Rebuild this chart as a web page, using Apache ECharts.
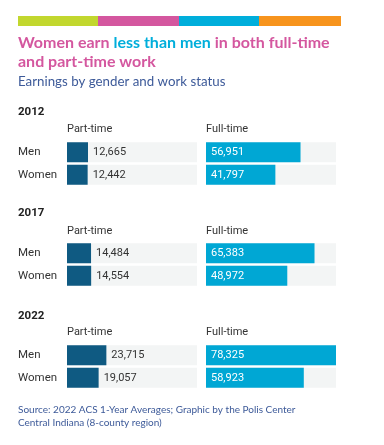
<!DOCTYPE html>
<html>
<head>
<meta charset="utf-8">
<script src="https://cdn.jsdelivr.net/npm/echarts@6/dist/echarts.min.js"></script>
<style>
html,body{margin:0;padding:0;background:#fff;}
#c{width:384px;height:445px;}
</style>
</head>
<body>
<div id="c"></div>
<script>
// ---- Data ----
var years = ['2012', '2017', '2022'];
var genders = ['Men', 'Women'];
var workTypes = ['Part-time', 'Full-time'];
var partTimeMen = [12665, 14484, 23715];
var partTimeWomen = [12442, 14554, 19057];
var fullTimeMen = [56951, 65383, 78325];
var fullTimeWomen = [41797, 48972, 58923];
var scaleMax = 78325;

// ---- Layout ----
var gridTops = [141, 242, 344];
var yearLabelY = [113, 214.5, 317];
var headerY = [131, 232.5, 334];
var gridLefts = [67, 206];
var gridWidth = 130;
var gridHeight = 45;

var TEXT = '#333333';
var NAVY = '#3d5a99';

var grids = [], xAxes = [], yAxes = [], series = [], graphics = [];

// top color strip
var stripColors = ['#c2d72e', '#d4579f', '#00aedb', '#f7941d'];
var stripX = [18, 98, 179, 259, 341];
for (var s = 0; s < 4; s++) {
  graphics.push({type: 'rect', shape: {x: stripX[s], y: 16, width: stripX[s+1]-stripX[s], height: 10}, style: {fill: stripColors[s]}});
}

var idx = 0;
years.forEach(function (yr, yi) {
  graphics.push({type: 'text', left: 18, top: yearLabelY[yi] - 7, style: {text: yr, fontFamily: 'Roboto', fontWeight: 'bold', fontSize: 11.5, fill: '#222'}});
  workTypes.forEach(function (wt, ti) {
    graphics.push({type: 'text', left: gridLefts[ti], top: headerY[yi] - 7, style: {text: wt, fontFamily: 'Roboto', fontSize: 11, fill: TEXT}});
    grids.push({left: gridLefts[ti], top: gridTops[yi], width: gridWidth, height: gridHeight, containLabel: false});
    xAxes.push({type: 'value', gridIndex: idx, min: 0, max: scaleMax, show: false});
    yAxes.push({
      type: 'category', gridIndex: idx, data: genders, inverse: true,
      axisLine: {show: false}, axisTick: {show: false}, splitLine: {show: false},
      axisLabel: {show: ti === 0, align: 'left', margin: 49, fontFamily: 'Roboto', fontSize: 11.5, color: TEXT}
    });
    var vals = ti === 0 ? [partTimeMen[yi], partTimeWomen[yi]] : [fullTimeMen[yi], fullTimeWomen[yi]];
    series.push({
      type: 'bar', xAxisIndex: idx, yAxisIndex: idx, data: vals, barWidth: 20,
      showBackground: true, backgroundStyle: {color: '#f3f5f5'},
      itemStyle: {color: ti === 0 ? '#0f5a82' : '#00a7d4'},
      label: {
        show: true, position: ti === 0 ? 'right' : 'insideLeft', distance: 5,
        fontFamily: 'Roboto', fontSize: 11, color: ti === 0 ? TEXT : '#ffffff',
        formatter: function (p) { return p.value.toLocaleString('en-US'); }
      },
      silent: true, animation: false
    });
    idx++;
  });
});

var chart = echarts.init(document.getElementById('c'), null, {renderer: 'canvas'});
chart.setOption({
  animation: false,
  title: [
    {
      left: 18, top: 33, padding: 0,
      text: '{p|Women earn }{c|less than men}{p| in both full-time}\n{p|and part-time work}',
      textStyle: {
        rich: {
          p: {fontFamily: 'Lato', fontWeight: 'bold', fontSize: 16, lineHeight: 19, color: '#d4579f'},
          c: {fontFamily: 'Lato', fontWeight: 'bold', fontSize: 16, lineHeight: 19, color: '#00aedb'}
        }
      }
    },
    {
      left: 18, top: 75, padding: 0, text: 'Earnings by gender and work status',
      textStyle: {fontFamily: 'Lato', fontWeight: 'normal', fontSize: 13.3, color: NAVY}
    },
    {
      left: 18, top: 403, padding: 0,
      text: 'Source: 2022 ACS 1-Year Averages; Graphic by the Polis Center\nCentral Indiana (8-county region)',
      textStyle: {fontFamily: 'Lato', fontWeight: 'normal', fontSize: 10, lineHeight: 13.5, color: NAVY}
    }
  ],
  grid: grids, xAxis: xAxes, yAxis: yAxes, series: series,
  graphic: graphics
});
</script>
</body>
</html>
